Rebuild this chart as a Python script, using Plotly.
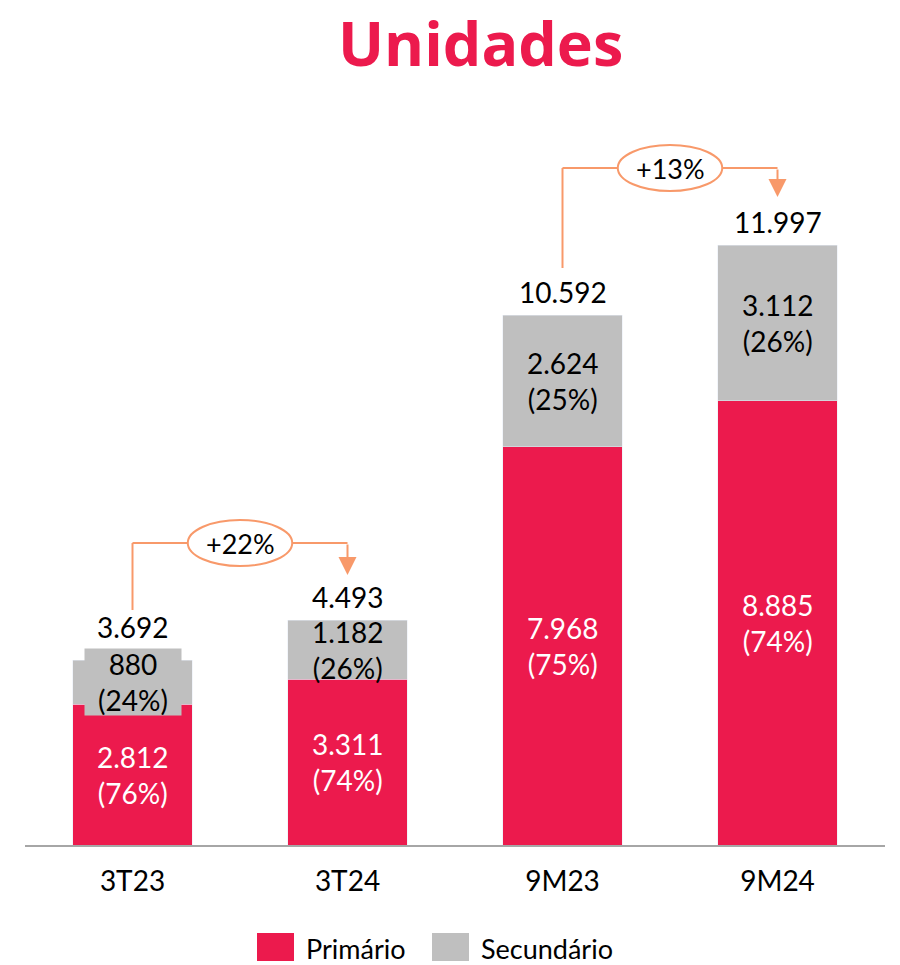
import plotly.graph_objects as go

categories = ["3T23", "3T24", "9M23", "9M24"]
primario = [2812, 3311, 7968, 8885]
secundario = [880, 1182, 2624, 3112]
totais = [3692, 4493, 10592, 11997]
pct_primario = ["76%", "74%", "75%", "74%"]
pct_secundario = ["24%", "26%", "25%", "26%"]
growth_labels = ["+22%", "+13%"]
growth_pairs = [(0, 1), (2, 3)]
title_text = "Unidades"

RED = "#EC1A4D"
GRAY = "#BFBFBF"
ORANGE = "#F8996A"
FONT = "Lato"
VAL_SIZE = 28


def fmt(v):
    return f"{v:,}".replace(",", ".")


fig = go.Figure()
fig.add_trace(go.Bar(x=categories, y=primario, name="Primário", marker_color=RED,
                     width=0.555, hoverinfo="skip"))
fig.add_trace(go.Bar(x=categories, y=secundario, name="Secundário", marker_color=GRAY,
                     width=0.555, hoverinfo="skip"))

annotations = []
for i, c in enumerate(categories):
    small = secundario[i] < 1000
    annotations.append(dict(x=c, y=totais[i], text=fmt(totais[i]), showarrow=False,
                            yanchor="bottom", yshift=14 if small else 4,
                            font=dict(size=VAL_SIZE, color="black", family=FONT)))
    annotations.append(dict(x=c, y=primario[i] / 2, text=f"{fmt(primario[i])}<br>({pct_primario[i]})",
                            showarrow=False, yanchor="middle",
                            font=dict(size=VAL_SIZE, color="white", family=FONT)))
    sec = dict(x=c, y=primario[i] + secundario[i] / 2,
               text=f"{fmt(secundario[i])}<br>({pct_secundario[i]})",
               showarrow=False, yanchor="middle", borderpad=0,
               font=dict(size=VAL_SIZE, color="black", family=FONT))
    if small:
        sec.update(bgcolor=GRAY, width=96, height=66)
    annotations.append(sec)

# bracket geometry (data units)
bracket_top = [6040, 13540]
bracket_start = [4700, 11540]
bracket_tip = [5400, 12960]

shapes = []
for k, (a, b) in enumerate(growth_pairs):
    top, start, tip = bracket_top[k], bracket_start[k], bracket_tip[k]
    mid = (a + b) / 2
    shapes.append(dict(type="line", x0=a, x1=a, y0=start, y1=top, xref="x", yref="y",
                       line=dict(color=ORANGE, width=2)))
    shapes.append(dict(type="line", x0=a, x1=b, y0=top, y1=top, xref="x", yref="y",
                       line=dict(color=ORANGE, width=2)))
    shapes.append(dict(type="circle", x0=mid - 0.243, x1=mid + 0.243, y0=top - 460, y1=top + 460,
                       xref="x", yref="y", fillcolor="white", line=dict(color=ORANGE, width=2)))
    annotations.append(dict(x=mid, y=top, text=growth_labels[k], showarrow=False,
                            font=dict(size=27, color="black", family=FONT)))
    annotations.append(dict(x=b, y=tip, ax=b, ay=top, xref="x", yref="y", axref="x", ayref="y",
                            text="", showarrow=True, arrowhead=2, arrowsize=1.8, arrowwidth=2,
                            arrowcolor=ORANGE, standoff=0))

# legend and title drawn manually (paper coords)
plot_top, plot_bottom = 100, 845
ph = plot_bottom - plot_top


def py(pix):
    return (plot_bottom - pix) / ph


def px(pix):
    return (pix - 25) / 860


legend_items = [("Primário", RED, 257), ("Secundário", GRAY, 432)]
for name, col, x0 in legend_items:
    shapes.append(dict(type="rect", xref="paper", yref="paper", x0=px(x0), x1=px(x0 + 37),
                       y0=py(961), y1=py(933), fillcolor=col, line=dict(width=0)))
    annotations.append(dict(xref="paper", yref="paper", x=px(x0 + 47), y=py(948), text=name,
                            showarrow=False, xanchor="left", yanchor="middle",
                            font=dict(size=27, color="black", family=FONT)))

annotations.append(dict(xref="paper", yref="paper", x=px(481), y=py(0), text=f"<b>{title_text}</b>",
                        showarrow=False, xanchor="center", yanchor="top", borderpad=0,
                        font=dict(size=61, color=RED, family="Open Sans")))

fig.update_layout(
    barmode="stack",
    width=900, height=965,
    margin=dict(l=25, r=15, t=100, b=120),
    paper_bgcolor="white", plot_bgcolor="white",
    showlegend=False,
    xaxis=dict(showline=True, linecolor="#A6A6A6", linewidth=2, ticks="outside", ticklen=10,
               tickcolor="white", tickfont=dict(size=28, color="black", family=FONT),
               showgrid=False),
    yaxis=dict(range=[0, 14900], visible=False, showgrid=False),
    shapes=shapes,
    annotations=annotations,
)

fig.write_html("out.html", config={"displayModeBar": False},
               post_script="document.body.style.margin='0px';")
